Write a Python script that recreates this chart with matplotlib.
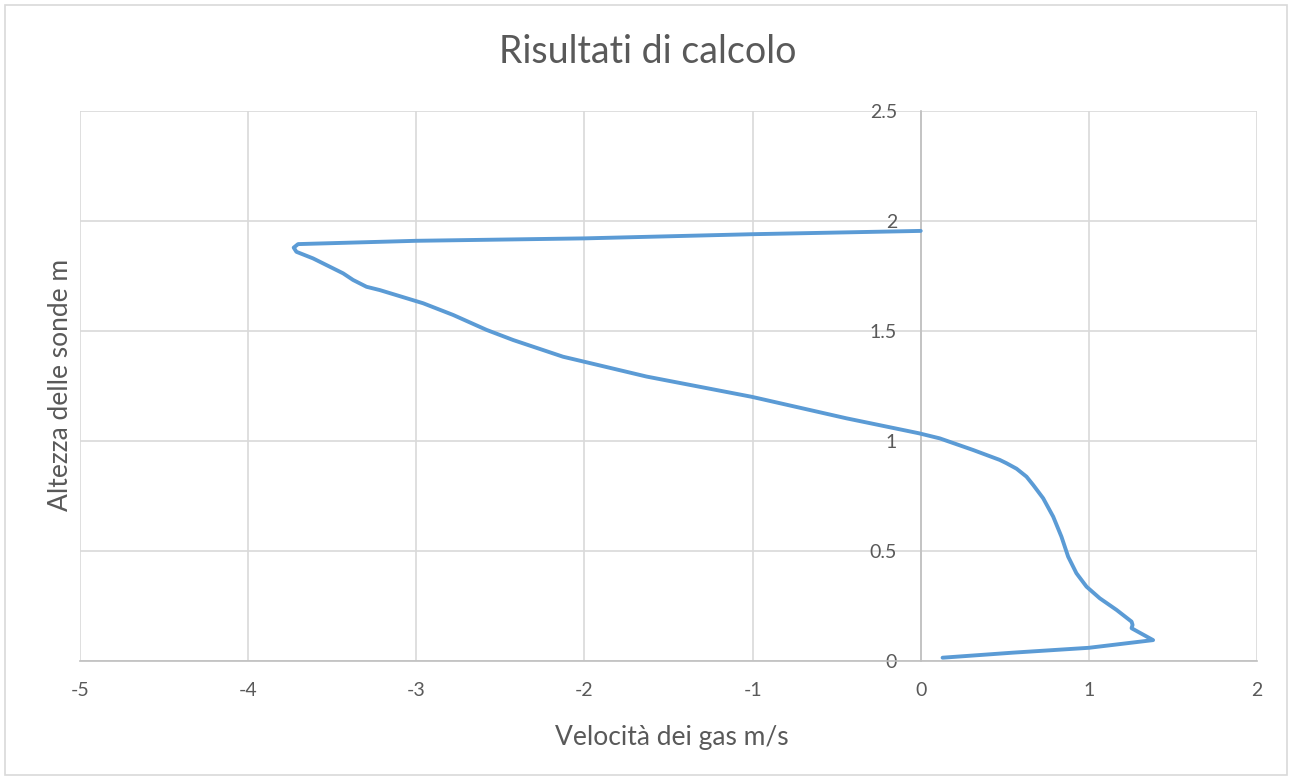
import matplotlib
matplotlib.use("Agg")
import matplotlib.pyplot as plt
from matplotlib.patches import Rectangle

# gas velocity (m/s) vs probe height (m)
velocita = [0.13, 0.55, 1.00, 1.382, 1.254, 1.26, 1.254, 1.165, 1.065, 0.986,
            0.926, 0.877, 0.837, 0.788, 0.728, 0.669, 0.629, 0.570, 0.51, 0.470, 0.312, 0.113,
            -0.01, -0.441, -1.006, -1.631, -2.027, -2.127, -2.424, -2.582, -2.781,
            -2.959, -3.217, -3.296, -3.376, -3.435, -3.614, -3.713, -3.729, -3.703,
            -3.0, -2.0, -1.0, 0.0]
altezza = [0.015, 0.038, 0.06, 0.095, 0.149, 0.164, 0.179, 0.232, 0.285, 0.338,
           0.399, 0.474, 0.565, 0.656, 0.74, 0.80, 0.838, 0.874, 0.899, 0.914, 0.959, 1.012,
           1.035, 1.103, 1.201, 1.293, 1.365, 1.383, 1.459, 1.505, 1.573,
           1.626, 1.686, 1.701, 1.732, 1.762, 1.830, 1.860, 1.879, 1.895,
           1.910, 1.921, 1.94, 1.955]

x_ticks = [-5, -4, -3, -2, -1, 0, 1, 2]
y_ticks = [0, 0.5, 1, 1.5, 2, 2.5]
y_labels = ["0", "0.5", "1", "1.5", "2", "2.5"]

plt.rcParams['font.family'] = ['Lato', 'DejaVu Sans']
plt.rcParams['axes.unicode_minus'] = False
TEXT = '#595959'
GRID = '#d9d9d9'
AXIS = '#bfbfbf'

fig = plt.figure(figsize=(12.92, 7.8), dpi=100)
ax = fig.add_axes([80 / 1292, 1 - 661 / 780, (1257 - 80) / 1292, (661 - 111) / 780])

# outer chart border
fig.patches.append(Rectangle((5 / 1292, 5 / 780), 1282 / 1292, 770 / 780,
                             transform=fig.transFigure, fill=False,
                             edgecolor=GRID, linewidth=1.2))

ax.plot(velocita, altezza, color='#5b9bd5', linewidth=2.8, solid_capstyle='round',
        solid_joinstyle='round', zorder=3)

ax.set_xlim(-5, 2)
ax.set_ylim(0, 2.5)
ax.set_xticks(x_ticks)
ax.set_yticks(y_ticks)
ax.set_yticklabels(y_labels)
ax.grid(True, color=GRID, linewidth=1.2, zorder=0)

for s in ['top', 'right']:
    ax.spines[s].set_visible(False)
ax.spines['left'].set_position(('data', 0))
ax.spines['left'].set_color(AXIS)
ax.spines['left'].set_linewidth(1.2)
ax.spines['bottom'].set_color(AXIS)
ax.spines['bottom'].set_linewidth(1.2)

ax.tick_params(axis='both', length=0, labelsize=14, labelcolor=TEXT)
ax.tick_params(axis='x', pad=15)
ax.tick_params(axis='y', pad=17)

fig.text(648 / 1292, 1 - 52 / 780, "Risultati di calcolo", ha='center', va='center',
         fontsize=27, color=TEXT)
fig.text(672 / 1292, 1 - 738 / 780, "Velocità dei gas m/s", ha='center', va='center',
         fontsize=19, color=TEXT)
fig.text(60 / 1292, 1 - 385 / 780, "Altezza delle sonde m", ha='center', va='center',
         fontsize=19, color=TEXT, rotation=90)

fig.savefig("out.png", dpi=100)
